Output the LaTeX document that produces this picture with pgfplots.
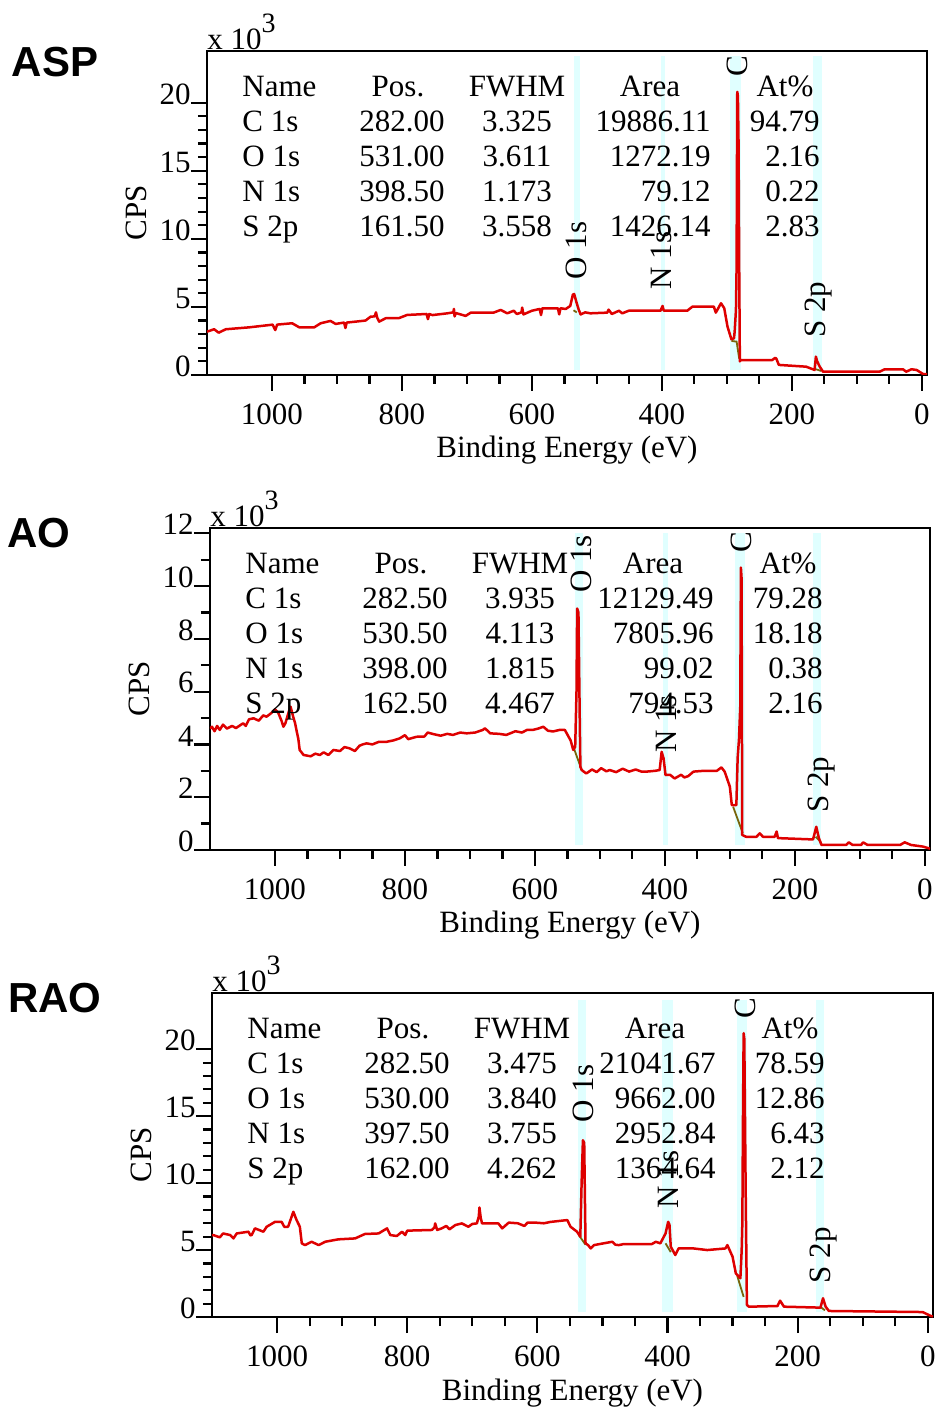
\documentclass[border=0pt]{standalone}
\usepackage{fontspec}
\setmainfont{Liberation Serif}
\newfontfamily\arial{Liberation Sans}
\usepackage{pgfplots}
\pgfplotsset{compat=1.18}

\definecolor{specred}{RGB}{222,0,0}
\definecolor{bandcyan}{RGB}{224,255,255}
\definecolor{bgolive}{RGB}{120,100,10}

\newcommand{\fs}{\fontsize{15.5}{17}\selectfont}

\pgfplotsset{
  xpsaxis/.style={
    scale only axis, width=360pt, height=162pt,
    x dir=reverse, xmin=-8, xmax=1100,
    xtick={0,200,...,1000}, minor x tick num=3,
    tick align=outside, xtick pos=bottom, ytick pos=left,
    major tick length=8pt, minor tick length=4.5pt,
    every tick/.style={black, line width=1.1pt},
    axis line style={line width=1.1pt},
    tick label style={font=\fs},
    /pgf/number format/assume math mode=true,
    /pgf/number format/1000 sep={},
    scaled y ticks=false,
    yticklabel style={anchor=south east, inner sep=0pt, yshift=-1pt},
    xticklabel style={anchor=north, inner sep=0pt, yshift=-6pt},
    xlabel={Binding Energy (eV)},
    ylabel={CPS},
    every axis x label/.style={at={(axis description cs:0.5,0)}, anchor=base, yshift=-41.5pt, inner sep=0pt, font=\fs},
    every axis y label/.style={at={(axis description cs:0,0.5)}, xshift=-30pt, rotate=90, anchor=base, inner sep=0pt, font=\fs},
  },
  spec/.style={specred, line width=1.25pt, line join=round},
  band/.style={fill=bandcyan, draw=none},
  bgl/.style={bgolive, line width=0.9pt},
}
\tikzset{plab/.style={rotate=90, anchor=west, font=\fs, inner sep=0pt}}

% table of peak data, placed from the axis' north west corner
\newcommand{\peaktable}[2]{%
  \begin{scope}[shift={(#1.north west)}, font=\fs, inner sep=0pt]
    \node[anchor=base west] at (17.5pt,-23pt) {Name};
    \node[anchor=base] at (95.5pt,-23pt) {Pos.};
    \node[anchor=base] at (155pt,-23pt) {FWHM};
    \node[anchor=base] at (221.5pt,-23pt) {Area};
    \node[anchor=base] at (289pt,-23pt) {At\%};
    \foreach \n/\p/\f/\a/\t [count=\i] in {#2} {
      \node[anchor=base west] at (17.5pt,{-23pt-17.5pt*\i}) {\n};
      \node[anchor=base east] at (119pt,{-23pt-17.5pt*\i}) {\p};
      \node[anchor=base] at (155pt,{-23pt-17.5pt*\i}) {\f};
      \node[anchor=base east] at (252pt,{-23pt-17.5pt*\i}) {\a};
      \node[anchor=base east] at (306.5pt,{-23pt-17.5pt*\i}) {\t};
    }
    \node[anchor=base west] at (0pt,0.5pt) {x 10\raisebox{8.5pt}{\fontsize{14}{14}\selectfont 3}};
  \end{scope}}

\begin{document}
\begin{tikzpicture}
\useasboundingbox (0,0) rectangle (469.5pt,705.5pt);

%% ---------------- ASP ----------------
\begin{axis}[xpsaxis, name=p1, at={(103.5pt,518pt)}, anchor=south west,
  ymin=0, ymax=23.8, ytick={0,5,...,20}, minor y tick num=4]
  \addplot[band] coordinates {(536,0.35)(526,0.35)(526,23.4)(536,23.4)} -- cycle;
  \addplot[band] coordinates {(402,0.35)(395,0.35)(395,23.4)(402,23.4)} -- cycle;
  \addplot[band] coordinates {(295,0.35)(278,0.35)(278,23.4)(295,23.4)} -- cycle;
  \addplot[band] coordinates {(167,0.35)(153,0.35)(153,23.4)(167,23.4)} -- cycle;
  \addplot[bgl] coordinates {(536,4.75)(531,4.6)};
  \addplot[bgl] coordinates {(293,2.5)(285,2.45)(281,1.2)};
  \addplot[bgl] coordinates {(165,0.45)(155,0.3)};
  \addplot[spec] coordinates {
    (1100,3.18)(1089,3.36)(1082,3.11)(1071,3.36)(1035,3.50)(1002,3.68)(999,3.70)
    (995,3.30)(992,3.70)(969,3.80)(958,3.50)(935,3.50)(925,3.80)(910,3.97)(902,3.75)
    (889,3.85)(887,3.45)(885,3.85)(871,3.92)(856,4.00)(848,4.29)(842,4.30)(840,4.60)
    (838,4.20)(835,3.92)(825,4.17)(805,4.17)(792,4.41)(762,4.48)(760,4.10)(758,4.48)
    (753,4.40)(730,4.53)(721,4.60)(720,4.85)(719,4.30)(717,4.55)(702,4.34)(694,4.58)
    (659,4.58)(648,4.78)(638,4.53)(628,4.72)(623,4.48)(616,4.60)(615,4.95)(613,4.45)
    (600,4.72)(588,4.85)(586,4.40)(584,4.90)(560,4.90)(558,4.45)(556,4.90)(548,4.85)
    (541,5.07)(537,5.90)(535,5.95)(531,5.27)(528,4.80)(525,4.45)(518,4.60)(510,4.53)
    (484,4.58)(482,4.80)(477,4.48)(466,4.72)(461,4.53)(451,4.72)(402,4.72)(399,5.07)
    (397,4.72)(361,4.72)(353,5.02)(320,5.02)(317,4.58)(309,5.27)(304,4.90)(299,3.55)
    (293,2.62)(289,2.70)(288,3.18)(286,4.78)(285,8.0)(284.5,15)(284,20.8)(283,20.5)
    (282,17)(281,8)(280,1.0)(279,1.10)(230,1.10)(226,1.25)(224,1.22)(220,0.74)
    (178,0.61)(165,0.37)(163,1.35)(161,1.0)(157,0.61)(152,0.24)(65,0.24)(57,0.42)
    (29,0.42)(24,0.24)(16,0.42)(8,0.37)(-2,0.07)(-8,0.05)};
  \node[plab] at (axis cs:532,7.0) {O 1s};
  \node[plab] at (axis cs:400,6.25) {N 1s};
  \node[plab] at (axis cs:284,21.9) {C 1s};
  \node[plab] at (axis cs:159,2.7) {S 2p};
\end{axis}
\peaktable{p1}{C 1s/282.00/3.325/19886.11/94.79, O 1s/531.00/3.611/1272.19/2.16,
  N 1s/398.50/1.173/79.12/0.22, S 2p/161.50/3.558/1426.14/2.83}

%% ---------------- AO ----------------
\begin{axis}[xpsaxis, name=p2, at={(105pt,280.5pt)}, anchor=south west, height=161pt,
  ymin=0, ymax=12.2, ytick={0,2,...,12}, minor y tick num=1]
  \addplot[band] coordinates {(538,0.19)(526,0.19)(526,12.0)(538,12.0)} -- cycle;
  \addplot[band] coordinates {(403,0.19)(395,0.19)(395,12.0)(403,12.0)} -- cycle;
  \addplot[band] coordinates {(292,0.19)(277,0.19)(277,12.0)(292,12.0)} -- cycle;
  \addplot[band] coordinates {(172,0.19)(159,0.19)(159,12.0)(172,12.0)} -- cycle;
  \addplot[bgl] coordinates {(540,3.85)(529,3.1)};
  \addplot[bgl] coordinates {(295,1.64)(280,0.63)};
  \addplot[bgl] coordinates {(168,0.5)(160,0.3)};
  \addplot[spec] coordinates {
    (1100,4.60)(1097,4.67)(1093,4.50)(1089,4.70)(1085,4.55)(1080,4.75)(1074,4.60)
    (1066,4.70)(1060,4.62)(1049,4.80)(1045,4.70)(1040,4.95)(1033,4.99)(1025,4.90)
    (1018,5.10)(1013,5.05)(1005,5.20)(1000,5.33)(995,5.20)(990,4.90)(987,4.67)
    (984,4.80)(981,5.05)(978,5.30)(976,5.43)(972,5.05)(969,4.80)(967,4.55)(964,4.20)
    (962,3.79)(956,3.60)(945,3.55)(938,3.65)(931,3.60)(925,3.70)(918,3.60)(910,3.79)
    (900,3.75)(893,3.90)(885,3.85)(877,3.75)(870,3.95)(865,4.00)(859,4.04)(850,4.00)
    (840,4.10)(828,4.10)(818,4.15)(808,4.23)(800,4.35)(795,4.20)(782,4.29)(770,4.30)
    (765,4.45)(756,4.39)(745,4.33)(735,4.40)(726,4.36)(715,4.45)(705,4.42)(692,4.45)
    (680,4.55)(677,4.61)(672,4.50)(669,4.42)(655,4.40)(644,4.36)(630,4.50)(620,4.45)
    (612,4.55)(603,4.55)(595,4.60)(587,4.67)(580,4.52)(572,4.49)(562,4.55)(554,4.55)
    (545,4.15)(541,3.79)(538,3.91)(536,6.0)(535,9.15)(533,9.0)(531,5.0)(530,3.15)
    (528,3.03)(521,2.90)(512,3.05)(505,2.95)(498,3.10)(490,2.98)(485,3.03)(475,2.95)
    (465,3.08)(455,2.97)(445,3.05)(436,2.97)(428,2.97)(415,3.00)(408,3.03)(405,3.72)
    (402,3.47)(399,2.84)(392,2.85)(385,2.71)(375,2.85)(370,2.75)(364,2.80)(356,2.97)
    (340,3.0)(320,3.0)(313,3.13)(308,2.97)(300,2.40)(297,1.70)(290,1.70)(288,3.5)
    (286,4.17)(284,5.43)(283,10.7)(282,10.3)(281.5,6)(281,0.57)(275,0.50)(259,0.50)
    (254,0.63)(249,0.50)(231,0.50)(228,0.70)(226,0.45)(172,0.40)(167,0.88)(163,0.45)
    (159,0.19)(121,0.19)(117,0.29)(111,0.19)(98,0.19)(95,0.29)(88,0.19)(38,0.19)
    (31,0.29)(21,0.19)(3,0.13)(-8,0.05)};
  \node[plab] at (axis cs:528,9.73) {O 1s};
  \node[plab] at (axis cs:397,3.67) {N 1s};
  \node[plab] at (axis cs:282,11.25) {C 1s};
  \node[plab] at (axis cs:159,1.4) {S 2p};
\end{axis}
\peaktable{p2}{C 1s/282.50/3.935/12129.49/79.28, O 1s/530.50/4.113/7805.96/18.18,
  N 1s/398.00/1.815/99.02/0.38, S 2p/162.50/4.467/794.53/2.16}

%% ---------------- RAO ----------------
\begin{axis}[xpsaxis, name=p3, at={(106pt,47pt)}, anchor=south west, width=360.5pt,
  ymin=0, ymax=24.2, ytick={0,5,...,20}, minor y tick num=4]
  \addplot[band] coordinates {(538,0.4)(525,0.4)(525,23.7)(538,23.7)} -- cycle;
  \addplot[band] coordinates {(408,0.4)(391,0.4)(391,23.7)(408,23.7)} -- cycle;
  \addplot[band] coordinates {(293,0.4)(278,0.4)(278,23.7)(293,23.7)} -- cycle;
  \addplot[band] coordinates {(172,0.4)(160,0.4)(160,23.7)(172,23.7)} -- cycle;
  \addplot[bgl] coordinates {(536,6.1)(526,5.4)};
  \addplot[bgl] coordinates {(403,5.5)(395,4.85)};
  \addplot[bgl] coordinates {(293,3.1)(283,1.5)};
  \addplot[bgl] coordinates {(165,0.75)(158,0.5)};
  \addplot[spec] coordinates {
    (1100,6.10)(1098,6.12)(1088,5.95)(1083,6.24)(1072,6.12)(1067,5.87)(1062,6.24)
    (1044,6.37)(1041,6.10)(1039,6.12)(1034,6.62)(1021,6.37)(1016,6.74)(1003,7.11)
    (993,7.11)(989,6.74)(983,6.74)(975,7.86)(970,7.24)(965,6.74)(962,5.50)(957,5.37)
    (947,5.62)(936,5.37)(926,5.62)(906,5.80)(880,5.87)(865,6.20)(844,6.24)(831,6.62)
    (826,6.12)(816,6.05)(808,6.37)(803,6.12)(800,6.45)(762,6.50)(758,6.70)(757,6.99)
    (754,6.50)(747,6.62)(740,6.80)(735,6.55)(726,6.87)(716,6.99)(706,6.74)(700,6.95)
    (693,6.99)(690,7.50)(689,8.18)(687,7.40)(685,6.99)(660,6.99)(654,6.62)(644,7.05)
    (630,7.00)(620,6.80)(615,7.05)(603,7.05)(590,7.00)(580,7.10)(554,7.24)(549,6.74)
    (539,6.37)(534,6.0)(532,10)(530,13.2)(528,13.0)(526,5.50)(522,5.37)(518,5.12)
    (513,5.37)(485,5.62)(480,5.40)(475,5.37)(467,5.45)(424,5.45)(418,5.62)(411,5.50)
    (403,6.24)(399,7.11)(397,6.9)(395,5.25)(388,4.63)(383,5.12)(360,5.12)(339,5.00)
    (311,5.12)(308,5.37)(300,4.50)(295,3.26)(288,2.89)(286,5.0)(285,6.99)(284,15)
    (283,21.2)(282,20.8)(280,10)(278,0.90)(275,0.77)(231,0.82)(227,1.22)(221,0.77)
    (165,0.70)(161,1.40)(157,0.77)(152,0.45)(8,0.37)(-5,0.07)(-8,0.05)};
  \node[plab] at (axis cs:529,14.5) {O 1s};
  \node[plab] at (axis cs:398,8.1) {N 1s};
  \node[plab] at (axis cs:280,22.3) {C 1s};
  \node[plab] at (axis cs:160,2.5) {S 2p};
\end{axis}
\peaktable{p3}{C 1s/282.50/3.475/21041.67/78.59, O 1s/530.00/3.840/9662.00/12.86,
  N 1s/397.50/3.755/2952.84/6.43, S 2p/162.00/4.262/1364.64/2.12}

\node[font=\arial\bfseries\fontsize{21}{21}\selectfont] at (27.5pt,674.5pt) {ASP};
\node[font=\arial\bfseries\fontsize{21}{21}\selectfont] at (19.5pt,439pt) {AO};
\node[font=\arial\bfseries\fontsize{21}{21}\selectfont] at (27.5pt,206.5pt) {RAO};
\end{tikzpicture}
\end{document}
